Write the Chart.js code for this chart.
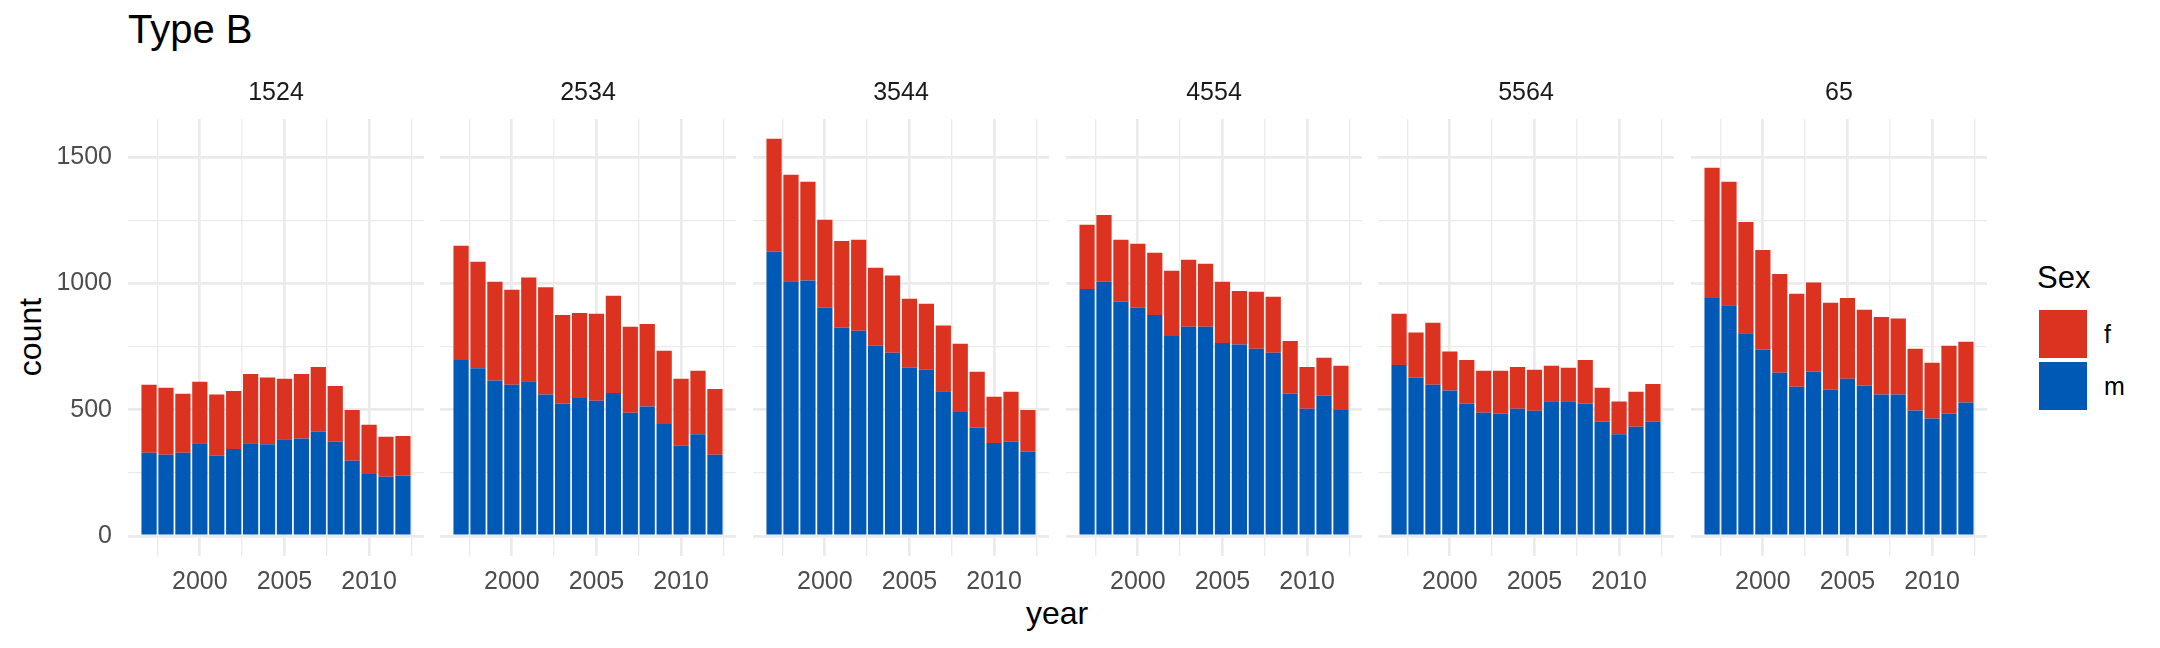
<!DOCTYPE html>
<html>
<head>
<meta charset="utf-8">
<title>Type B</title>
<script src="https://cdn.jsdelivr.net/npm/chart.js@4.4.1/dist/chart.umd.min.js"></script>
<style>
  html, body { margin: 0; padding: 0; background: #fff; }
  #page { position: relative; width: 2160px; height: 648px; overflow: hidden; font-family: "Liberation Sans", Arial, sans-serif; }
  #page canvas { position: absolute; top: 60px; }
  .txt { position: absolute; white-space: nowrap; line-height: 1; color: #000; }
  .key { position: absolute; width: 48px; height: 48px; }
  .keyLabel { position: absolute; font-size: 25px; line-height: 48px; color: #000; }
</style>
</head>
<body>
<div id="page">
  <div class="txt" id="mainTitle" style="left:128px; top:9px; font-size:40px;">Type B</div>
  <div class="txt" id="yTitle" style="left:-70px; top:321px; width:200px; height:32px; font-size:32px; line-height:32px; text-align:center; transform:rotate(-90deg);">count</div>
  <div class="txt" id="xTitle" style="left:957px; top:597px; width:200px; font-size:32px; line-height:32px; text-align:center;">year</div>
  <div class="txt" id="legendTitle" style="left:2037px; top:262px; font-size:31px;">Sex</div>
  <div id="legendKeys"></div>
</div>
<script>
// counts per year, split by sex, one pair of arrays per age group

const years = [1997, 1998, 1999, 2000, 2001, 2002, 2003, 2004, 2005, 2006, 2007, 2008, 2009, 2010, 2011, 2012]
const ageGroups = ['1524', '2534', '3544', '4554', '5564', '65']

const male1524 = [329, 321, 329, 367, 317, 344, 367, 363, 383, 386, 412, 373, 298, 245, 234, 239]
const female1524 = [270, 266, 234, 243, 243, 230, 274, 264, 239, 255, 257, 221, 201, 195, 159, 157]

const male2534 = [697, 664, 615, 599, 612, 560, 524, 546, 535, 566, 488, 512, 443, 357, 403, 321]
const female2534 = [452, 421, 391, 376, 411, 425, 351, 337, 345, 385, 340, 327, 290, 265, 251, 261]

const male3544 = [1126, 1008, 1011, 903, 825, 812, 753, 725, 666, 658, 573, 491, 429, 368, 373, 334]
const female3544 = [446, 422, 391, 349, 343, 361, 309, 306, 273, 261, 260, 270, 221, 183, 198, 165]

const male4554 = [978, 1006, 928, 903, 875, 792, 828, 828, 764, 758, 741, 725, 563, 504, 555, 499]
const female4554 = [254, 265, 245, 254, 246, 258, 265, 250, 242, 212, 226, 222, 209, 165, 150, 175]

const male5564 = [677, 627, 599, 576, 524, 488, 484, 504, 496, 533, 533, 524, 452, 403, 432, 452]
const female5564 = [203, 178, 245, 154, 173, 166, 170, 165, 162, 141, 133, 173, 135, 129, 139, 150]

const male65 = [942, 913, 802, 738, 646, 591, 650, 579, 622, 596, 560, 560, 497, 465, 484, 528]
const female65 = [516, 489, 441, 394, 391, 368, 353, 344, 320, 299, 307, 301, 244, 221, 269, 241]

const maleCounts = [male1524, male2534, male3544, male4554, male5564, male65]
const femaleCounts = [female1524, female2534, female3544, female4554, female5564, female65]

const sexLabels = ['f', 'm']
const yearTicks = [1997.5, 2000, 2002.5, 2005, 2007.5, 2010, 2012.5]
const countTicks = [0, 250, 500, 750, 1000, 1250, 1500]

const colorF = '#DC3220'
const colorM = '#005AB5'
const gridColor = '#EBEBEB'

const panelLefts = [128, 440, 753, 1066, 1378, 1691]
const panelWidth = 296
const yAxisWidth = 88
const canvasHeight = 536

function makePanel(i) {
    const page = document.getElementById('page')
    const axisW = i === 0 ? yAxisWidth : 0
    const canvas = document.createElement('canvas')
    canvas.width = axisW + panelWidth
    canvas.height = canvasHeight
    canvas.style.left = (panelLefts[i] - axisW) + 'px'
    canvas.style.width = canvas.width + 'px'
    canvas.style.height = canvas.height + 'px'
    page.appendChild(canvas)

    new Chart(canvas, {
        type: 'bar',
        data: {
            labels: years,
            datasets: [{
                label: 'm',
                data: maleCounts[i],
                backgroundColor: colorM,
                borderWidth: 0,
                barPercentage: 0.9,
                categoryPercentage: 1.0
            }, {
                label: 'f',
                data: femaleCounts[i],
                backgroundColor: colorF,
                borderWidth: 0,
                barPercentage: 0.9,
                categoryPercentage: 1.0
            }]
        },
        options: {
            responsive: false,
            animation: false,
            devicePixelRatio: 1,
            layout: { padding: 0 },
            plugins: {
                legend: { display: false },
                tooltip: { enabled: false },
                title: {
                    display: true,
                    text: ageGroups[i],
                    fullSize: false,
                    color: '#1A1A1A',
                    font: { family: 'Liberation Sans', size: 25, weight: 'normal' },
                    padding: { top: 18, bottom: 11 }
                }
            },
            scales: {
                x: {
                    type: 'linear',
                    stacked: true,
                    offset: false,
                    min: 1995.755,
                    max: 2013.245,
                    afterBuildTicks: function(scale) {
                        scale.ticks = yearTicks.map(v => ({ value: v }))
                    },
                    afterFit: function(scale) {
                        scale.height = 40.2
                    },
                    border: { display: false },
                    grid: {
                        offset: false,
                        drawTicks: false,
                        color: gridColor,
                        lineWidth: ctx => (ctx.tick && ctx.tick.value % 5 === 0) ? 2.7 : 1.35
                    },
                    ticks: {
                        autoSkip: false,
                        maxRotation: 0,
                        minRotation: 0,
                        padding: 11,
                        color: '#4D4D4D',
                        font: { family: 'Liberation Sans', size: 25 },
                        callback: v => (v % 5 === 0 ? String(v) : '')
                    }
                },
                y: {
                    stacked: true,
                    min: -78.6,
                    max: 1650.6,
                    afterBuildTicks: function(scale) {
                        scale.ticks = countTicks.map(v => ({ value: v }))
                    },
                    afterFit: function(scale) {
                        scale.width = axisW
                    },
                    border: { display: false },
                    grid: {
                        drawTicks: false,
                        color: gridColor,
                        lineWidth: ctx => (ctx.tick && ctx.tick.value % 500 === 0) ? 2.7 : 1.35
                    },
                    ticks: {
                        display: i === 0,
                        padding: 16,
                        color: '#4D4D4D',
                        font: { family: 'Liberation Sans', size: 25 },
                        callback: v => (v % 500 === 0 ? String(v) : '')
                    }
                }
            }
        }
    })
}

function makeLegend() {
    const box = document.getElementById('legendKeys')
    const keyColors = [colorF, colorM]
    const keyTops = [310, 362]
    for (let k = 0; k < sexLabels.length; k++) {
        const key = document.createElement('div')
        key.className = 'key'
        key.style.left = '2039px'
        key.style.top = keyTops[k] + 'px'
        key.style.background = keyColors[k]
        box.appendChild(key)

        const label = document.createElement('div')
        label.className = 'keyLabel'
        label.style.left = '2104px'
        label.style.top = keyTops[k] + 'px'
        label.textContent = sexLabels[k]
        box.appendChild(label)
    }
}

for (let i = 0; i < ageGroups.length; i++) {
    makePanel(i)
}
makeLegend()
</script>
</body>
</html>
